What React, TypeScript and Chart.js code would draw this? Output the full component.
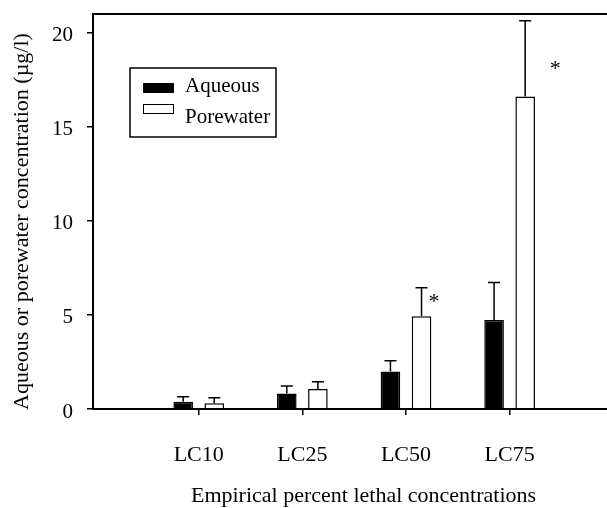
import { useEffect, useRef } from 'react';
import { Chart, registerables } from 'chart.js';

Chart.register(...registerables);

const categories = ['LC10', 'LC25', 'LC50', 'LC75'];
const aqueous = [0.39, 0.83, 2.0, 4.73];
const aqueousErr = [0.26, 0.39, 0.57, 2.0];
const porewater = [0.3, 1.06, 4.93, 16.61];
const porewaterErr = [0.3, 0.39, 1.51, 4.03];
const yTicks = [0, 5, 10, 15, 20];
const asterisks = [
  { x: 3.27, y: 5.9 },
  { x: 4.44, y: 18.3 },
];
const xTitle = 'Empirical percent lethal concentrations';
const yTitle = 'Aqueous or porewater concentration (\u00b5g/l)';

const FONT = '"Liberation Serif", "Times New Roman", serif';

export default function App() {
  const ref = useRef<HTMLCanvasElement | null>(null);

  useEffect(() => {
    const canvas = ref.current;
    if (!canvas) return;
    const errs = [aqueousErr, porewaterErr];

    const decor = {
      id: 'decor',
      afterDatasetsDraw(chart: any) {
        const ctx = chart.ctx;
        const ys = chart.scales.y;
        const xs = chart.scales.x;
        ctx.save();
        ctx.strokeStyle = '#000';
        ctx.lineWidth = 1.5;
        chart.data.datasets.forEach((ds: any, di: number) => {
          const meta = chart.getDatasetMeta(di);
          meta.data.forEach((el: any, i: number) => {
            const v = ds.data[i].y + errs[di][i];
            const top = ys.getPixelForValue(v);
            ctx.beginPath();
            ctx.moveTo(el.x, el.y);
            ctx.lineTo(el.x, top);
            ctx.moveTo(el.x - 6, top);
            ctx.lineTo(el.x + 6, top);
            ctx.stroke();
          });
        });
        ctx.fillStyle = '#000';
        ctx.font = `22px ${FONT}`;
        ctx.textAlign = 'center';
        ctx.textBaseline = 'middle';
        asterisks.forEach((a) => {
          ctx.fillText('*', xs.getPixelForValue(a.x), ys.getPixelForValue(a.y) + 4);
        });
        ctx.restore();
      },
      afterDraw(chart: any) {
        const ctx = chart.ctx;
        const ca = chart.chartArea;
        ctx.save();
        ctx.strokeStyle = '#000';
        ctx.lineWidth = 2;
        ctx.strokeRect(ca.left, ca.top, ca.right - ca.left, ca.bottom - ca.top);

        ctx.fillStyle = '#000';
        ctx.font = `22px ${FONT}`;
        ctx.textAlign = 'center';
        ctx.textBaseline = 'alphabetic';
        ctx.translate(28, 221.5);
        ctx.rotate(-Math.PI / 2);
        ctx.fillText(yTitle, 0, 0);
        ctx.setTransform(1, 0, 0, 1, 0, 0);

        ctx.lineWidth = 1.5;
        ctx.strokeRect(130, 68, 146, 69);
        const rows = [83, 104];
        const bases = [92, 123];
        chart.data.datasets.forEach((ds: any, i: number) => {
          ctx.fillStyle = ds.backgroundColor;
          ctx.fillRect(143, rows[i], 31, 10);
          ctx.lineWidth = 1;
          ctx.strokeRect(143.5, rows[i] + 0.5, 30, 9);
          ctx.fillStyle = '#000';
          ctx.font = `21px ${FONT}`;
          ctx.textAlign = 'left';
          ctx.fillText(ds.label, 185, bases[i]);
        });
        ctx.restore();
      },
    };

    const chart = new Chart(canvas, {
      type: 'bar',
      data: {
        datasets: [
          {
            label: 'Aqueous',
            data: aqueous.map((v, i) => ({ x: i + 1, y: v })),
            backgroundColor: '#000000',
            borderColor: '#000000',
            borderWidth: 1.5,
          },
          {
            label: 'Porewater',
            data: porewater.map((v, i) => ({ x: i + 1, y: v })),
            backgroundColor: '#ffffff',
            borderColor: '#000000',
            borderWidth: 1.5,
          },
        ],
      },
      options: {
        responsive: false,
        animation: false,
        devicePixelRatio: 1,
        layout: { padding: { top: 14, left: 0, right: 0, bottom: 0 } },
        datasets: { bar: { categoryPercentage: 0.6, barPercentage: 0.63 } },
        plugins: { legend: { display: false }, tooltip: { enabled: false } },
        scales: {
          x: {
            type: 'linear',
            min: -0.02,
            max: 5.2,
            offset: false,
            afterBuildTicks: (s: any) => {
              s.ticks = categories.map((_, i) => ({ value: i + 1 }));
            },
            afterFit: (s: any) => {
              s.height = 99;
              s.paddingLeft = 0;
              s.paddingRight = 0;
            },
            border: { display: false },
            grid: {
              display: true,
              offset: false,
              drawOnChartArea: false,
              drawTicks: true,
              tickLength: 6,
              color: '#000',
              lineWidth: 1.5,
            },
            ticks: {
              callback: (v: any) => categories[Math.round(v) - 1] ?? '',
              font: { family: FONT, size: 22 },
              color: '#000',
              padding: 27,
              maxRotation: 0,
              autoSkip: false,
            },
            title: {
              display: true,
              text: xTitle,
              color: '#000',
              font: { family: FONT, size: 22, lineHeight: 1 },
              padding: { top: 0, bottom: 0.5 },
            },
          },
          y: {
            min: 0,
            max: 21,
            afterBuildTicks: (s: any) => {
              s.ticks = yTicks.map((v) => ({ value: v }));
            },
            afterFit: (s: any) => {
              s.width = 93;
              s.paddingTop = 0;
              s.paddingBottom = 0;
            },
            border: { display: false },
            grid: {
              display: true,
              drawOnChartArea: false,
              drawTicks: true,
              tickLength: 6,
              color: '#000',
              lineWidth: 1.5,
            },
            ticks: {
              font: { family: FONT, size: 21 },
              color: '#000',
              padding: 14,
              labelOffset: 3,
            },
          },
        },
      },
      plugins: [decor],
    } as any);

    return () => chart.destroy();
  }, []);

  return (
    <div
      style={{
        position: 'fixed',
        left: 0,
        top: 0,
        width: 607,
        height: 508,
        overflow: 'hidden',
        background: '#fff',
      }}
    >
      <canvas ref={ref} width={634} height={508} style={{ display: 'block', width: 634, height: 508 }} />
    </div>
  );
}
